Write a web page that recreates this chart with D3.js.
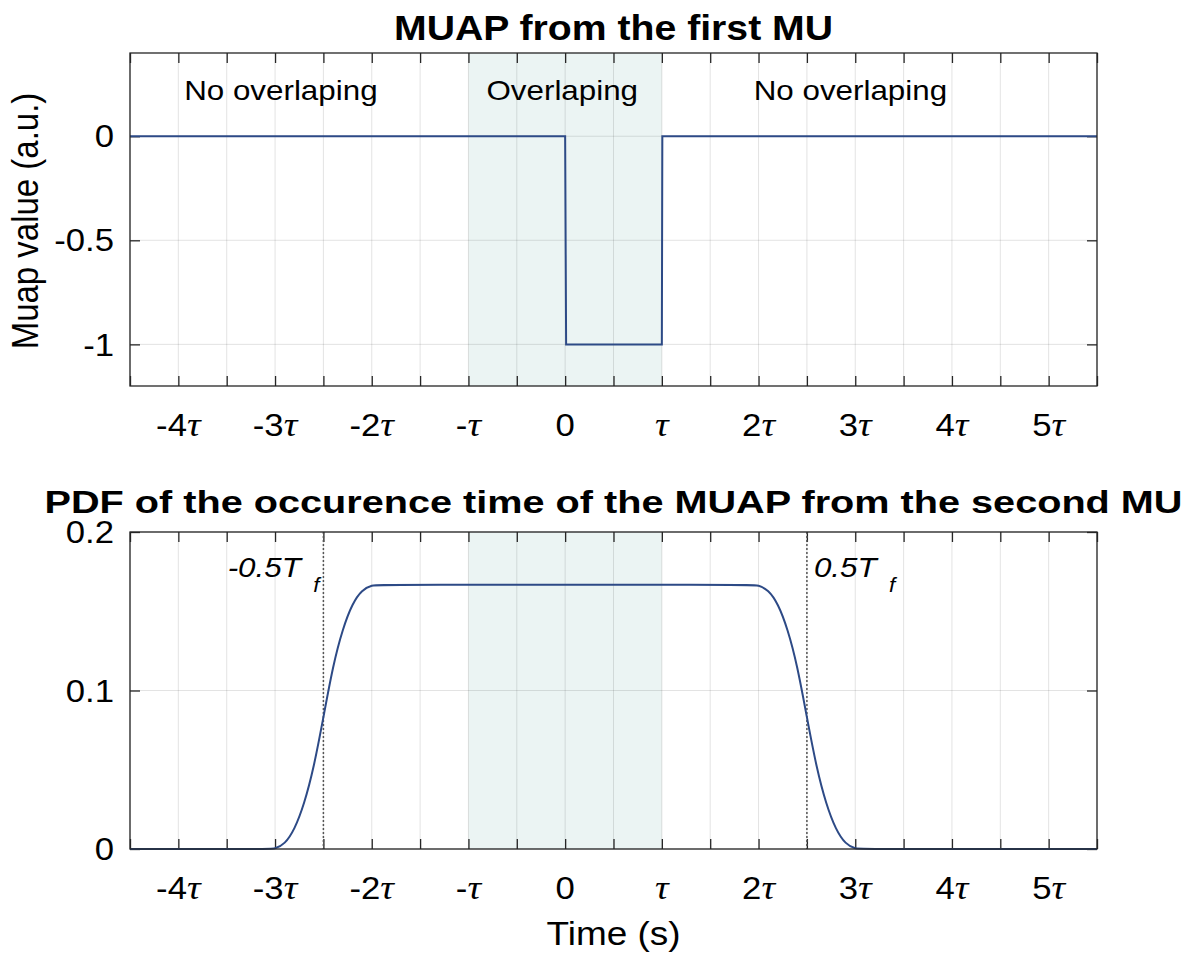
<!DOCTYPE html>
<html>
<head>
<meta charset="utf-8">
<script src="https://cdn.jsdelivr.net/npm/d3@7"></script>
<style>
  body { margin: 0; background: #fff; }
  text { font-family: "Liberation Sans", Arial, Helvetica, sans-serif; fill: #000; }
</style>
</head>
<body>
<div id="chart"></div>
<script>
// ---------------- data ----------------
// x is in units of tau
var xDomain = [-4.5, 5.5];
var tickPos = [-4.5, -4, -3.5, -3, -2.5, -2, -1.5, -1, -0.5, 0, 0.5, 1, 1.5, 2, 2.5, 3, 3.5, 4, 4.5, 5, 5.5];
var labelPos = [-4, -3, -2, -1, 0, 1, 2, 3, 4, 5];
var labelTxt = ["-4τ", "-3τ", "-2τ", "-τ", "0", "τ", "2τ", "3τ", "4τ", "5τ"];
var overlap = [-1, 1];

// top panel: MUAP of the first MU
var muapT = [-4.5, 0, 0.01, 1, 1.005, 5.5];
var muapV = [0, 0, -1, -1, 0, 0];
var muapYTicks = [-1, -0.5, 0];
var muapYLabels = ["-1", "-0.5", "0"];
var regionTxt = ["No overlaping", "Overlaping", "No overlaping"];
var regionX = [-2.94, -0.03, 2.95];
var regionY = 0.172;

// bottom panel: PDF of occurrence time of the second MUAP
var pdfT = [-4.5, -3.1, -3.0, -2.9, -2.8, -2.7, -2.6, -2.5, -2.4, -2.3, -2.2, -2.1, -2.0, -1.9,
            1.9, 2.0, 2.1, 2.2, 2.3, 2.4, 2.5, 2.6, 2.7, 2.8, 2.9, 3.0, 3.1, 5.5];
var pdfV = [0, 0, 0, 0.003, 0.012, 0.028, 0.051, 0.083, 0.116, 0.139, 0.155, 0.1635, 0.1665, 0.1667,
            0.1667, 0.1665, 0.1635, 0.155, 0.139, 0.116, 0.083, 0.051, 0.028, 0.012, 0.003, 0, 0, 0];
var pdfYTicks = [0, 0.1, 0.2];
var pdfYLabels = ["0", "0.1", "0.2"];
var halfTf = [-2.5, 2.5];

// ---------------- layout ----------------
var W = 1194, H = 955;
var left = 130, right = 1097;
var top1 = [53, 386], top2 = [532, 849];
var sx = 1.12; // horizontal stretch of all text

var svg = d3.select("#chart").append("svg")
    .attr("width", W)
    .attr("height", H);

var x = d3.scaleLinear().domain(xDomain).range([left, right]);
var y1 = d3.scaleLinear().domain([-1.2, 0.4]).range([top1[1], top1[0]]);
var y2 = d3.scaleLinear().domain([0, 0.2]).range([top2[1], top2[0]]);

// text placed in a stretched group
function addText(parent, px, py, str, size, anchor, rot) {
    return parent.append("g")
        .attr("transform", "translate(" + px + "," + py + ") scale(" + sx + ",1)" + (rot ? " rotate(" + rot + ")" : ""))
        .append("text")
        .attr("text-anchor", anchor || "middle")
        .style("font-size", size + "px")
        .text(str);
}

function panel(y, yTicks, yLabels, rng) {
    var g = svg.append("g");

    // overlap shading
    g.append("rect")
        .attr("x", x(overlap[0]))
        .attr("y", rng[0])
        .attr("width", x(overlap[1]) - x(overlap[0]))
        .attr("height", rng[1] - rng[0])
        .attr("fill", "#ebf4f3");

    // grid
    g.selectAll(".vgrid").data(tickPos).enter().append("line")
        .attr("x1", function (d) { return x(d); })
        .attr("x2", function (d) { return x(d); })
        .attr("y1", rng[0]).attr("y2", rng[1])
        .attr("stroke", "rgba(38,38,38,0.13)")
        .attr("stroke-width", 1);
    g.selectAll(".hgrid").data(yTicks).enter().append("line")
        .attr("x1", left).attr("x2", right)
        .attr("y1", function (d) { return y(d); })
        .attr("y2", function (d) { return y(d); })
        .attr("stroke", "rgba(38,38,38,0.13)")
        .attr("stroke-width", 1);

    // inward ticks on all four sides
    var axes = [
        [d3.axisBottom(x).tickValues(tickPos), "translate(0," + rng[1] + ")"],
        [d3.axisTop(x).tickValues(tickPos), "translate(0," + rng[0] + ")"],
        [d3.axisLeft(y).tickValues(yTicks), "translate(" + left + ",0)"],
        [d3.axisRight(y).tickValues(yTicks), "translate(" + right + ",0)"]
    ];
    axes.forEach(function (a) {
        var ax = g.append("g")
            .attr("transform", a[1])
            .call(a[0].tickSizeInner(-10).tickSizeOuter(0).tickFormat(""));
        ax.select(".domain").remove();
        ax.selectAll(".tick line").attr("stroke", "#262626").attr("stroke-width", 1.3);
    });

    // x tick labels with italic tau
    labelPos.forEach(function (p, i) {
        var t = addText(g, x(p), rng[1] + 50, "", 31);
        var parts = labelTxt[i].split("τ");
        t.append("tspan").text(parts[0]);
        if (labelTxt[i].indexOf("τ") >= 0) {
            t.append("tspan")
                .style("font-family", "'Liberation Serif', 'Times New Roman', serif")
                .style("font-style", "italic")
                .style("font-size", "34px")
                .text("τ");
        }
    });

    // y tick labels
    yTicks.forEach(function (v, i) {
        addText(g, left - 16, y(v), yLabels[i], 31, "end").attr("dy", "0.36em");
    });

    return g;
}

function frame(g, rng) {
    g.append("rect")
        .attr("x", left).attr("y", rng[0])
        .attr("width", right - left).attr("height", rng[1] - rng[0])
        .attr("fill", "none")
        .attr("stroke", "#262626")
        .attr("stroke-width", 1.3);
}

// ---------------- top panel ----------------
var g1 = panel(y1, muapYTicks, muapYLabels, top1);

g1.append("path")
    .datum(muapT.map(function (t, i) { return [t, muapV[i]]; }))
    .attr("fill", "none")
    .attr("stroke", "#2d4a86")
    .attr("stroke-width", 2)
    .attr("d", d3.line().x(function (d) { return x(d[0]); }).y(function (d) { return y1(d[1]); }));

regionTxt.forEach(function (s, i) {
    addText(g1, x(regionX[i]), y1(regionY), s, 28);
});
frame(g1, top1);

addText(svg, (left + right) / 2, 40, "MUAP from the first MU", 35)
    .style("font-weight", "bold");

// y axis label (rotated)
addText(svg, 38, 221, "Muap value (a.u.)", 33, "middle", -90);

// ---------------- bottom panel ----------------
var g2 = panel(y2, pdfYTicks, pdfYLabels, top2);

// dotted lines at +-0.5 Tf
g2.selectAll(".tf").data(halfTf).enter().append("line")
    .attr("x1", function (d) { return x(d); })
    .attr("x2", function (d) { return x(d); })
    .attr("y1", top2[0]).attr("y2", top2[1])
    .attr("stroke", "#555")
    .attr("stroke-width", 1.5)
    .attr("stroke-dasharray", "2,2");

g2.append("path")
    .datum(pdfT.map(function (t, i) { return [t, pdfV[i]]; }))
    .attr("fill", "none")
    .attr("stroke", "#2d4a86")
    .attr("stroke-width", 2)
    .attr("d", d3.line().curve(d3.curveBasis)
        .x(function (d) { return x(d[0]); })
        .y(function (d) { return y2(d[1]); }));

// annotations
[["-0.5T", halfTf[0], -4, "end"], ["0.5T", halfTf[1], 7, "start"]].forEach(function (a) {
    var t = addText(g2, x(a[1]) + a[2], 577, "", 28, a[3]).style("font-style", "italic");
    t.append("tspan").text(a[0]);
    t.append("tspan").attr("dx", 11).attr("dy", 15).style("font-size", "20px").text("f");
});
frame(g2, top2);

addText(svg, (left + right) / 2, 513, "PDF of the occurence time of the MUAP from the second MU", 32)
    .style("font-weight", "bold")
    .attr("textLength", 1138 / sx)
    .attr("lengthAdjust", "spacingAndGlyphs");

addText(svg, (left + right) / 2, 945, "Time (s)", 33);
</script>
</body>
</html>
